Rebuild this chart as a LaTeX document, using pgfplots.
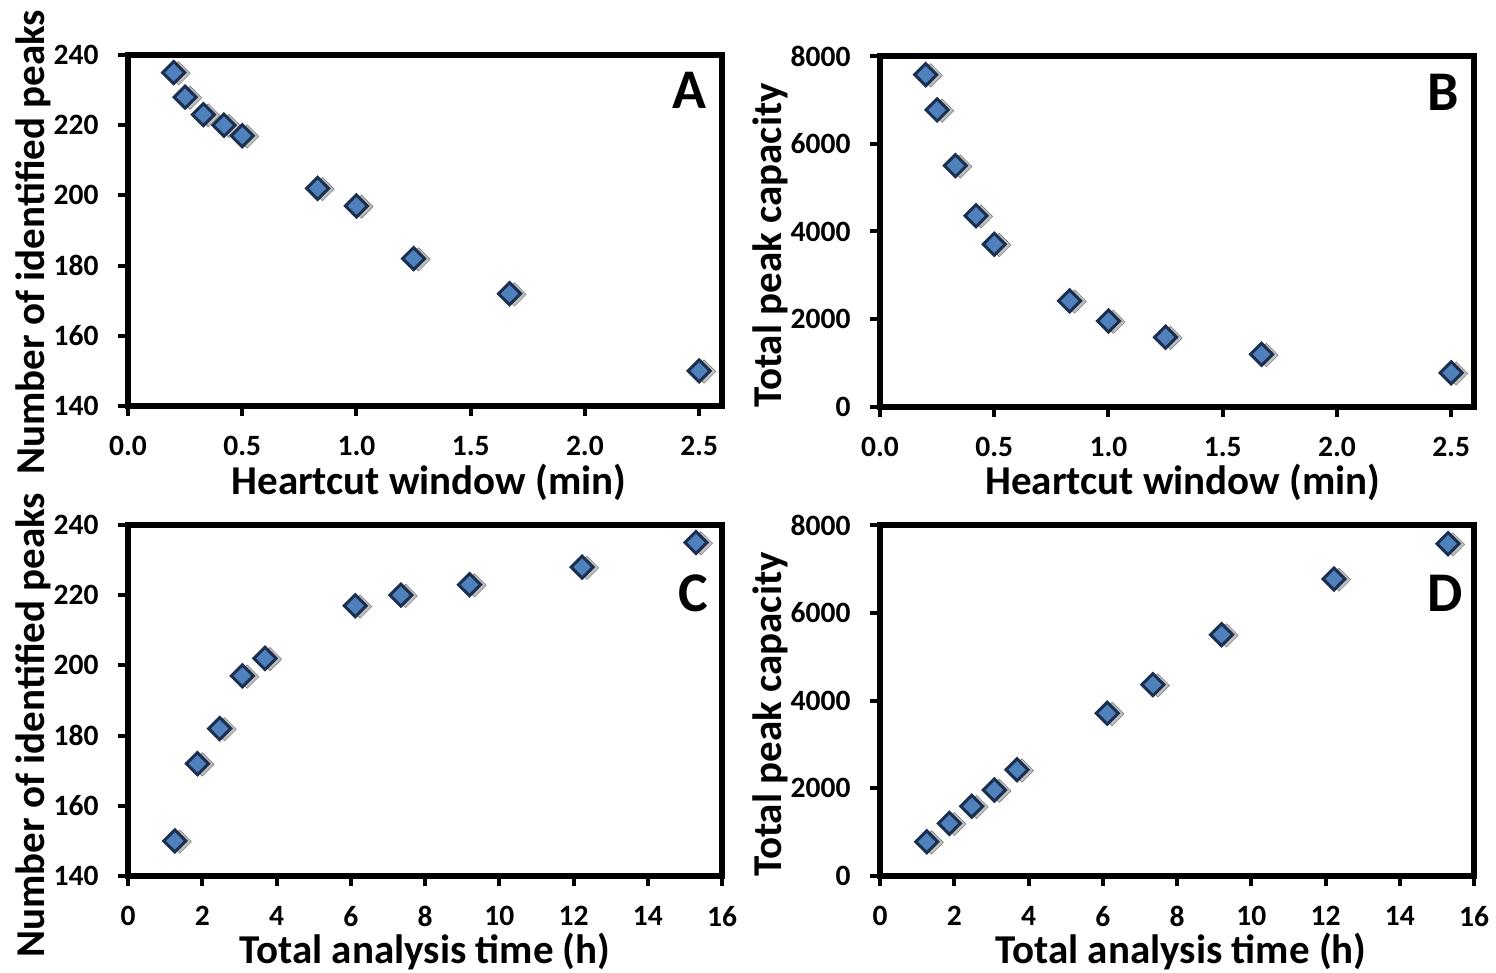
\documentclass[border=0pt]{standalone}
\usepackage{fontspec}
\setmainfont{Carlito}
\usepackage{pgfplots}
\usepackage{pgfplotstable}
\pgfplotsset{compat=1.18}
\definecolor{MarkBlue}{HTML}{4F81BD}
\definecolor{MarkEdge}{HTML}{1C2F4F}

% heartcut window (min), total time (h), identified peaks, peak capacity
\pgfplotstableread{
w    t     n    c
0.20 15.30 235 7575
0.25 12.23 228 6770
0.33 9.20  223 5500
0.42 7.35  220 4360
0.50 6.12  217 3710
0.83 3.69  202 2420
1.00 3.08  197 1960
1.25 2.47  182 1590
1.67 1.87  172 1200
2.50 1.26  150 780
}\peaks

\pgfplotsset{
  panel/.style={
    scale only axis, width=594pt, height=351pt,
    anchor=south west, clip=false,
    axis line style={line width=5.5pt},
    tick align=outside, tick pos=left, major tick length=10pt,
    tick style={line width=4pt, black},
    /pgf/number format/assume math mode=true,
    /pgf/number format/1000 sep={},
    scaled ticks=false,
    tick label style={font=\fontsize{29.5}{29.5}\selectfont\bfseries},
    xticklabel style={yshift=-17pt},
    yticklabel style={xshift=-16pt},
    label style={font=\fontsize{41}{41}\selectfont\bfseries, inner sep=0pt},
    execute at end axis={\draw[line width=5.5pt, line join=miter]
      (rel axis cs:0,0) rectangle (rel axis cs:1,1);},
  },
  shadow/.style={only marks, mark=square*, mark size=8.3pt,
    mark options={rotate=45, fill=black!50, draw=none, opacity=0.5, xshift=3pt, yshift=-4pt}},
  dots/.style={only marks, mark=square*, mark size=7.8pt,
    mark options={rotate=45, fill=MarkBlue, draw=MarkEdge, line width=3pt}},
}
\tikzset{letter/.style={font=\fontsize{56}{56}\selectfont\bfseries, anchor=center}}

\begin{document}
\begin{tikzpicture}
\useasboundingbox (0,0) rectangle (1496pt,972pt);

% A
\begin{axis}[panel, at={(128pt,566pt)},
  xmin=0, xmax=2.6, ymin=140, ymax=240,
  xtick={0,0.5,...,2.5}, ytick={140,160,...,240},
  xticklabel style={/pgf/number format/.cd, fixed, fixed zerofill, precision=1},
  xlabel={Heartcut window (min)}, ylabel={Number of identified peaks},
  xlabel style={at={(axis description cs:0.507,-0.217)}, anchor=center},
  ylabel style={at={(axis description cs:-0.16,0.467)}, anchor=center},
]
\addplot[shadow] table[x=w, y=n] {\peaks};
\addplot[dots] table[x=w, y=n] {\peaks};
\node[letter] at (rel axis cs:0.946,0.90) {A};
\end{axis}

% B
\begin{axis}[panel, at={(880pt,565pt)},
  xmin=0, xmax=2.6, ymin=0, ymax=8000,
  xtick={0,0.5,...,2.5}, ytick={0,2000,...,8000},
  xticklabel style={/pgf/number format/.cd, fixed, fixed zerofill, precision=1},
  xlabel={Heartcut window (min)}, ylabel={Total peak capacity},
  xlabel style={at={(axis description cs:0.51,-0.214)}, anchor=center},
  ylabel style={at={(axis description cs:-0.185,0.46)}, anchor=center},
]
\addplot[shadow] table[x=w, y=c] {\peaks};
\addplot[dots] table[x=w, y=c] {\peaks};
\node[letter] at (rel axis cs:0.948,0.897) {B};
\end{axis}

% C
\begin{axis}[panel, at={(128pt,96pt)},
  xmin=0, xmax=16, ymin=140, ymax=240,
  xtick={0,2,...,16}, ytick={140,160,...,240},
  xlabel={Total analysis time (h)}, ylabel={Number of identified peaks},
  xlabel style={at={(axis description cs:0.50,-0.215)}, anchor=center},
  ylabel style={at={(axis description cs:-0.16,0.43)}, anchor=center},
]
\addplot[shadow] table[x=t, y=n] {\peaks};
\addplot[dots] table[x=t, y=n] {\peaks};
\node[letter] at (rel axis cs:0.951,0.806) {C};
\end{axis}

% D
\begin{axis}[panel, at={(880pt,96pt)},
  xmin=0, xmax=16, ymin=0, ymax=8000,
  xtick={0,2,...,16}, ytick={0,2000,...,8000},
  xlabel={Total analysis time (h)}, ylabel={Total peak capacity},
  xlabel style={at={(axis description cs:0.507,-0.215)}, anchor=center},
  ylabel style={at={(axis description cs:-0.185,0.46)}, anchor=center},
]
\addplot[shadow] table[x=t, y=c] {\peaks};
\addplot[dots] table[x=t, y=c] {\peaks};
\node[letter] at (rel axis cs:0.951,0.806) {D};
\end{axis}
\end{tikzpicture}
\end{document}
